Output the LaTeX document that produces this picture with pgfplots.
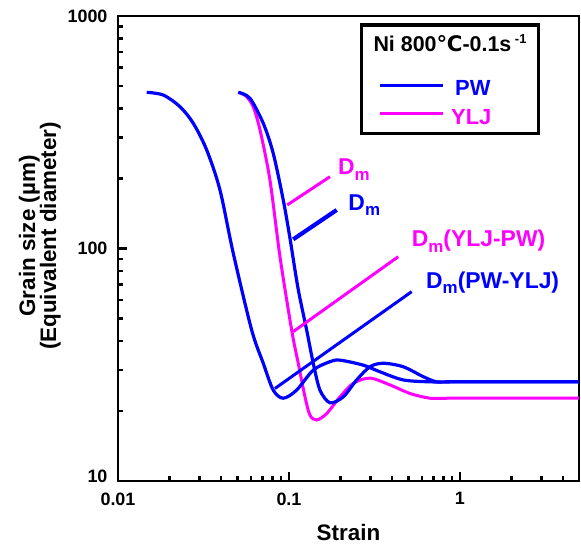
\documentclass[border=0pt]{standalone}
\usepackage{pgfplots}
\pgfplotsset{compat=1.18}
\usepackage{fontspec}
\setmainfont{Liberation Sans}
\newfontfamily\djv{DejaVu Sans}
\definecolor{pw}{RGB}{0,0,255}
\definecolor{ylj}{RGB}{255,0,255}
\newcommand{\Dm}{D\raisebox{-5.5bp}{\fontsize{17}{17}\selectfont m}}
\begin{document}
\begin{tikzpicture}
\begin{axis}[
  xmode=log, ymode=log,
  scale only axis, width=461bp, height=465bp,
  xmin=0.01, xmax=4.97, ymin=10, ymax=1000,
  xtick={0.01,0.1,1},
  ytick={100,1000},
  extra y ticks={10},
  extra y tick style={yticklabel style={yshift=5bp}},
  log ticks with fixed point,
  /pgf/number format/1000 sep={},
  /pgf/number format/assume math mode=true,
  minor xtick={0.02,0.03,0.04,0.05,0.06,0.07,0.08,0.09,0.2,0.3,0.4,0.5,0.6,0.7,0.8,0.9,2,3,4},
  minor ytick={20,30,40,50,60,70,80,90,200,300,400,500,600,700,800,900},
  tick align=inside, tick pos=left,
  major tick length=9bp, minor tick length=5bp,
  axis line style={line width=2.8bp},
  every tick/.style={line width=2.4bp, black},
  xticklabel style={font=\fontsize{18}{18}\selectfont\bfseries, yshift=-8bp},
  yticklabel style={font=\fontsize{18}{18}\selectfont\bfseries, xshift=-7bp},
  xlabel={Strain},
  ylabel={Grain size (µm)\\(Equivalent diameter)},
  label style={font=\fontsize{22.5}{21}\selectfont\bfseries},
  xlabel style={yshift=-12bp},
  ylabel style={align=center, at={(ticklabel cs:0.527)}},
  clip=true,
]
% YLJ (magenta)
\addplot[ylj, line width=3bp, smooth, tension=0.5] coordinates {
(0.05052,469.7) (0.05603,452.6) (0.0618,407) (0.0677,323.3) (0.0774,197.1) (0.0886,92.2)
(0.1037,44.6) (0.1133,32.1) (0.1241,23.0) (0.1327,19.2) (0.1452,18.3) (0.1662,19.5)
(0.1987,23.0) (0.2377,26.3) (0.2977,27.7) (0.3898,25.9) (0.5101,23.8) (0.6677,22.7)
(0.85,22.7) (1.2,22.7) (2.2,22.7) (4.97,22.7)};
% PW left curve
\addplot[pw, line width=3.2bp, smooth, tension=0.5] coordinates {
(0.01472,469.7) (0.01841,457) (0.02306,407) (0.02757,345.5) (0.03302,265.3) (0.03949,178.5)
(0.04723,95.4) (0.06052,44.6) (0.07074,32.1) (0.0809,24.6) (0.0926,22.7) (0.1109,24.6)
(0.1387,30.0) (0.1737,32.6) (0.1987,33.1) (0.2719,31.5) (0.3404,29.5) (0.4661,27.2)
(0.6677,26.7) (0.85,26.7) (1.2,26.7) (2.2,26.7) (4.97,26.7)};
% PW right curve
\addplot[pw, line width=3.2bp, smooth, tension=0.5] coordinates {
(0.05052,469.7) (0.05913,442.6) (0.07074,345.5) (0.0809,256.7) (0.0926,161.6) (0.1013,111.0)
(0.1129,67.6) (0.1269,44.6) (0.1387,32.1) (0.1518,24.6) (0.1737,21.7) (0.2077,23.0)
(0.2488,27.2) (0.2977,31.0) (0.3559,32.1) (0.4661,31.0) (0.6100,28.1) (0.7308,26.7)
(0.9,26.7) (1.2,26.7) (2.2,26.7) (4.97,26.7)};
% annotation lines
\addplot[ylj, line width=3bp] coordinates {(0.0977,153.9) (0.1737,203.6)};
\addplot[pw, line width=4.2bp] coordinates {(0.1059,109.5) (0.1901,146.4)};
\addplot[ylj, line width=3bp] coordinates {(0.1059,43.9) (0.4357,92.2)};
\addplot[pw, line width=3bp] coordinates {(0.0828,25.0) (0.5219,65.2)};
% annotation labels
\node[anchor=base west, inner sep=0pt, text=ylj, font=\fontsize{23}{23}\selectfont\bfseries] at (axis cs:0.1934,207.2) {\Dm};
\node[anchor=base west, inner sep=0pt, text=pw, font=\fontsize{23}{23}\selectfont\bfseries] at (axis cs:0.2223,146.4) {\Dm};
\node[anchor=base west, inner sep=0pt, text=ylj, font=\fontsize{23}{23}\selectfont\bfseries] at (axis cs:0.5219,101.5) {\Dm(YLJ-PW)};
\node[anchor=base west, inner sep=0pt, text=pw, font=\fontsize{23}{23}\selectfont\bfseries] at (axis cs:0.6327,67.4) {\Dm(PW-YLJ)};
% legend box
\node[draw=black, line width=3.2bp, fill=white, minimum width=176.6bp, minimum height=108.3bp, inner sep=0pt] at (rel axis cs:0.7202,0.8641) {};
\node[anchor=base, inner sep=0pt, font=\fontsize{21.5}{21.5}\selectfont\bfseries] at (rel axis cs:0.7202,0.9232) {Ni 800{\djv\bfseries ℃}-0.1s\,\raisebox{8bp}{\fontsize{13}{13}\selectfont -1}};
\node[anchor=base west, inner sep=0pt, text=pw, font=\fontsize{22}{22}\selectfont\bfseries] at (rel axis cs:0.5683,0.8280) {\rule[9bp]{63bp}{3.2bp}\hspace{12bp}PW};
\node[anchor=base west, inner sep=0pt, text=ylj, font=\fontsize{22}{22}\selectfont\bfseries] at (rel axis cs:0.5683,0.7677) {\rule[9bp]{63bp}{3.2bp}\hspace{8bp}YLJ};
\coordinate (SW) at (rel axis cs:0,0);
\coordinate (NE) at (rel axis cs:1,1);
\end{axis}
\pgfresetboundingbox
\path[use as bounding box] ([shift={(-118bp,-70bp)}]SW) rectangle ([shift={(2bp,16bp)}]NE);
\end{tikzpicture}
\end{document}
